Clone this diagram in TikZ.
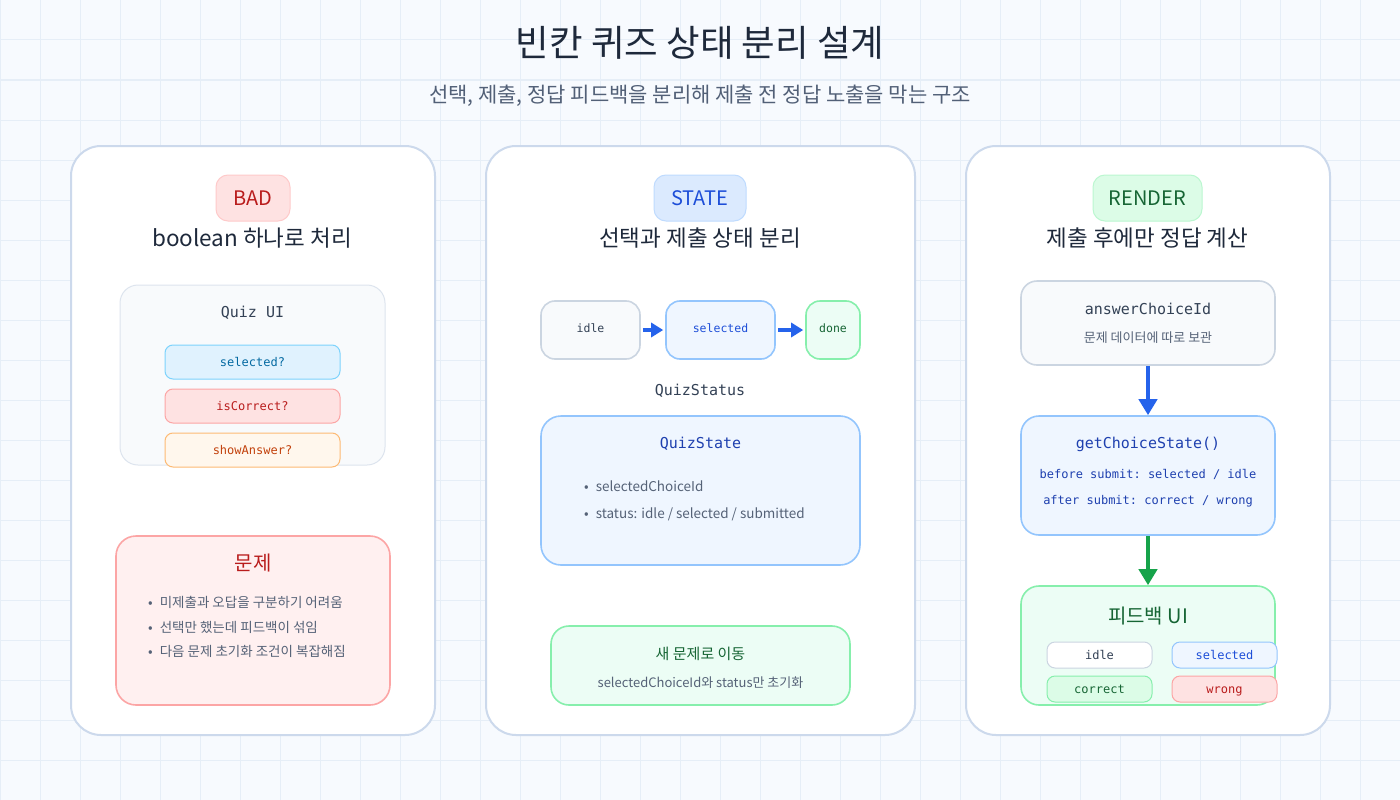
\documentclass[tikz,border=0pt]{standalone}
\usepackage{fontspec}
\setmainfont{Noto Sans CJK KR}
\setmonofont{DejaVu Sans Mono}
\usetikzlibrary{arrows.meta}

\definecolor{bg}{HTML}{F7FAFE}
\definecolor{gridc}{HTML}{E6EEF7}
\definecolor{panelline}{HTML}{CCD9EC}
\definecolor{ink}{HTML}{1E293B}
\definecolor{sub}{HTML}{526077}
\definecolor{body}{HTML}{556277}
\definecolor{slate}{HTML}{334155}
\definecolor{slatefill}{HTML}{F8FAFC}
\definecolor{slateline}{HTML}{CBD5E1}
\definecolor{lightline}{HTML}{DDE4EE}
\definecolor{redfill}{HTML}{FEE2E2}
\definecolor{redline}{HTML}{FCA5A5}
\definecolor{redbadge}{HTML}{FECACA}
\definecolor{redtext}{HTML}{B91C1C}
\definecolor{redsoft}{HTML}{FFF0F0}
\definecolor{bluefill}{HTML}{EFF6FF}
\definecolor{blueline}{HTML}{93C5FD}
\definecolor{bluebadge}{HTML}{DBEAFE}
\definecolor{bluebadgeline}{HTML}{BFDBFE}
\definecolor{bluetext}{HTML}{1E40AF}
\definecolor{bluebright}{HTML}{1D4ED8}
\definecolor{arrowblue}{HTML}{2563EB}
\definecolor{skyfill}{HTML}{E0F2FE}
\definecolor{skyline}{HTML}{7DD3FC}
\definecolor{skytext}{HTML}{0369A1}
\definecolor{orangefill}{HTML}{FFF7ED}
\definecolor{orangeline}{HTML}{FDBA74}
\definecolor{orangetext}{HTML}{C2410C}
\definecolor{greenfill}{HTML}{ECFDF5}
\definecolor{greenline}{HTML}{86EFAC}
\definecolor{greenbadge}{HTML}{DCFCE7}
\definecolor{greenbadgeline}{HTML}{BBF7D0}
\definecolor{greentext}{HTML}{166534}
\definecolor{arrowgreen}{HTML}{16A34A}

\newcommand{\fs}[1]{\fontsize{#1}{#1}\selectfont}

\tikzset{
  panel/.style={draw=panelline, fill=white, line width=2pt, rounded corners=30pt, inner sep=0pt},
  boxshape/.style={rounded corners=#1, inner sep=0pt, line width=1.6pt},
  boxshape/.default=16pt,
  badge/.style={rounded corners=12pt, inner sep=0pt, line width=1pt, minimum height=46pt},
  pill/.style={rounded corners=8pt, inner sep=0pt, line width=1pt, minimum width=105pt, minimum height=26pt, font=\ttfamily\fs{12}, text height=10pt, text depth=2pt},
  chip/.style={rounded corners=8pt, inner sep=0pt, line width=1pt, minimum width=175pt, minimum height=34pt, font=\ttfamily\fs{12}, text height=10pt, text depth=2pt},
  txt/.style={inner sep=0pt, anchor=center},
  monotxt/.style={inner sep=0pt, anchor=center, text height=10pt, text depth=2pt},
  bullet/.style={inner sep=0pt, anchor=west, text=body, font=\fs{13.5}},
}

\begin{document}
\begin{tikzpicture}[x=1pt,y=-1pt]
\useasboundingbox (0,0) rectangle (1400,800);
\fill[bg] (0,0) rectangle (1400,800);
\foreach \gx in {0,40,...,1400} \draw[gridc, line width=1pt] (\gx,0) -- (\gx,800);
\foreach \gy in {0,40,...,800} \draw[gridc, line width=1pt] (0,\gy) -- (1400,\gy);

% titles
\node[txt, text=ink, font=\fs{36.5}] (title) at (700,43) {빈칸 퀴즈 상태 분리 설계};
\node[txt, text=sub, font=\fs{21}] (subtitle) at (700,96) {선택, 제출, 정답 피드백을 분리해 제출 전 정답 노출을 막는 구조};

% panels
\node[panel, minimum width=364pt, minimum height=589pt] (p1) at (253,440.5) {};
\node[panel, minimum width=429pt, minimum height=589pt] (p2) at (700.5,440.5) {};
\node[panel, minimum width=364pt, minimum height=589pt] (p3) at (1148,440.5) {};

% ---------- Panel 1 ----------
\node[badge, fill=redfill, draw=redbadge, minimum width=74pt, text=redtext, font=\fs{20}] (bad) at (253,198) {BAD};
\node[txt, text=ink, font=\fs{22.5}] (h1) at (252,238) {boolean 하나로 처리};

\node[boxshape=18pt, fill=slatefill, draw=lightline, line width=1pt, minimum width=265pt, minimum height=180pt] (quizui) at (252.5,375) {};
\node[txt, text=slate, font=\ttfamily\fs{15}] (quizuit) at (252.5,313) {Quiz UI};
\node[chip, fill=skyfill, draw=skyline, text=skytext] (c1) at (252.5,362) {selected?};
\node[chip, fill=redfill, draw=redline, text=redtext] (c2) at (252.5,406) {isCorrect?};
\node[chip, fill=orangefill, draw=orangeline, text=orangetext] (c3) at (252.5,450) {showAnswer?};

\node[boxshape=20pt, fill=redsoft, draw=redline, minimum width=274pt, minimum height=169pt] (prob) at (253,620.5) {};
\node[txt, text=redtext, font=\fs{20}] (probt) at (253,563) {문제};
\node[bullet] (b1) at (148,602) {•\hspace{7pt}미제출과 오답을 구분하기 어려움};
\node[bullet] (b2) at (148,627) {•\hspace{7pt}선택만 했는데 피드백이 섞임};
\node[bullet] (b3) at (148,651) {•\hspace{7pt}다음 문제 초기화 조건이 복잡해짐};

% ---------- Panel 2 ----------
\node[badge, fill=bluebadge, draw=bluebadgeline, minimum width=92pt, text=bluebright, font=\fs{20}] (state) at (700,198) {STATE};
\node[txt, text=ink, font=\fs{22.5}] (h2) at (700,238) {선택과 제출 상태 분리};

\node[boxshape=14pt, fill=slatefill, draw=slateline, minimum width=99pt, minimum height=58pt] (sidle) at (590.5,330) {};
\node[monotxt, text=slate, font=\ttfamily\fs{11.5}] (sidlet) at (590.5,328) {idle};
\node[boxshape=14pt, fill=bluefill, draw=blueline, minimum width=109pt, minimum height=58pt] (ssel) at (720.5,330) {};
\node[monotxt, text=bluebright, font=\ttfamily\fs{11.5}] (sselt) at (720.5,328) {selected};
\node[boxshape=14pt, fill=greenfill, draw=greenline, minimum width=54pt, minimum height=58pt] (sdone) at (833,330) {};
\node[monotxt, text=greentext, font=\ttfamily\fs{11.5}] (sdonet) at (833,328) {done};
\draw[arrowblue, line width=3.5pt, -{Triangle[length=12pt,width=14pt]}, shorten <=2pt, shorten >=2pt] (sidle) -- (ssel);
\draw[arrowblue, line width=3.5pt, -{Triangle[length=12pt,width=14pt]}, shorten <=2pt, shorten >=2pt] (ssel) -- (sdone);
\node[txt, text=slate, font=\ttfamily\fs{15}] (qstatus) at (700,391) {QuizStatus};

\node[boxshape=20pt, fill=bluefill, draw=blueline, minimum width=319pt, minimum height=149pt] (qstate) at (700.5,490.5) {};
\node[txt, text=bluetext, font=\ttfamily\fs{15}] (qstatet) at (700.5,444) {QuizState};
\node[bullet] (s1) at (584,486) {•\hspace{7pt}selectedChoiceId};
\node[bullet] (s2) at (584,514) {•\hspace{7pt}status: idle / selected / submitted};

\node[boxshape=18pt, fill=greenfill, draw=greenline, minimum width=299pt, minimum height=79pt] (newq) at (700.5,665.5) {};
\node[txt, text=greentext, font=\fs{15}] (newqt) at (700.5,654) {새 문제로 이동};
\node[txt, text=body, font=\fs{13}] (newqs) at (700.5,683) {selectedChoiceId와 status만 초기화};

% ---------- Panel 3 ----------
\node[badge, fill=greenbadge, draw=greenbadgeline, minimum width=109pt, text=greentext, font=\fs{20}] (render) at (1147.5,198) {RENDER};
\node[txt, text=ink, font=\fs{22.5}] (h3) at (1147.5,238) {제출 후에만 정답 계산};

\node[boxshape=16pt, fill=slatefill, draw=slateline, minimum width=254pt, minimum height=84pt] (ans) at (1148,323) {};
\node[txt, text=slate, font=\ttfamily\fs{15}] (anst) at (1148,309) {answerChoiceId};
\node[txt, text=body, font=\fs{13}] (anss) at (1148,338) {문제 데이터에 따로 보관};

\node[boxshape=18pt, fill=bluefill, draw=blueline, minimum width=254pt, minimum height=119pt] (gcs) at (1148,475.5) {};
\node[txt, text=bluetext, font=\ttfamily\fs{15}] (gcst) at (1148,444) {getChoiceState()};
\node[monotxt, text=bluetext, font=\ttfamily\fs{12}] (gcs1) at (1148,474) {before submit: selected / idle};
\node[monotxt, text=bluetext, font=\ttfamily\fs{12}] (gcs2) at (1148,500) {after submit: correct / wrong};

\node[boxshape=18pt, fill=greenfill, draw=greenline, minimum width=254pt, minimum height=119pt] (fb) at (1148,645.5) {};
\node[txt, text=greentext, font=\fs{20}] (fbt) at (1148,616) {피드백 UI};
\node[pill, fill=white, draw=slateline, text=slate] (pidle) at (1099.5,655) {idle};
\node[pill, fill=bluefill, draw=blueline, text=bluebright] (psel) at (1224.5,655) {selected};
\node[pill, fill=greenbadge, draw=greenline, text=greentext] (pcor) at (1099.5,689) {correct};
\node[pill, fill=redfill, draw=redline, text=redtext] (pwr) at (1224.5,689) {wrong};

\draw[arrowblue, line width=4pt, -{Triangle[length=16pt,width=18pt]}] (ans) -- (gcs);
\draw[arrowgreen, line width=4pt, -{Triangle[length=16pt,width=18pt]}] (gcs) -- (fb);
\end{tikzpicture}
\end{document}
